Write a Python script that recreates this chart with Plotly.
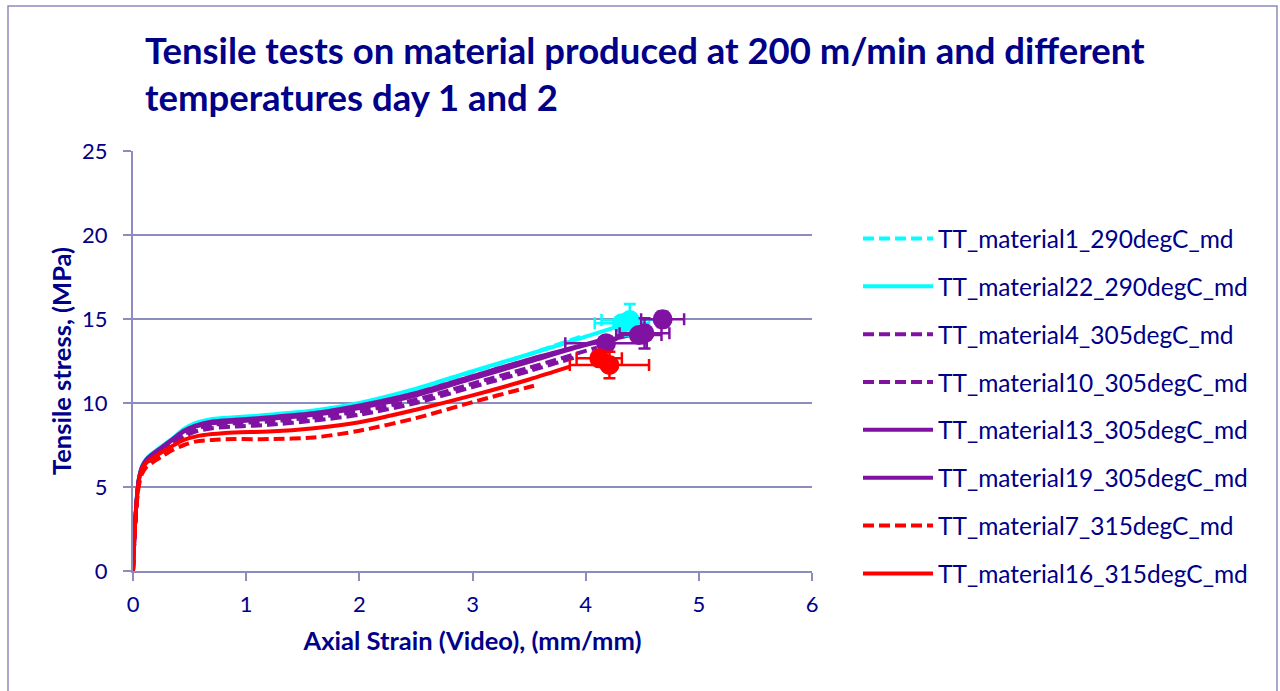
import plotly.graph_objects as go

# ---------------- data ----------------
names = [
    "TT_material1_290degC_md",
    "TT_material22_290degC_md",
    "TT_material4_305degC_md",
    "TT_material10_305degC_md",
    "TT_material13_305degC_md",
    "TT_material19_305degC_md",
    "TT_material7_315degC_md",
    "TT_material16_315degC_md",
]

base_strain = [0, 0.02, 0.05, 0.08, 0.12, 0.18, 0.25, 0.35, 0.45, 0.55, 0.7, 0.9, 1.2, 1.6, 2.0, 2.5, 3.0, 3.5]

strain_m1 = base_strain + [4.0]
stress_m1 = [0, 3.0, 5.4, 6.2, 6.65, 7.0, 7.35, 7.85, 8.4, 8.75, 9.0, 9.1, 9.25, 9.5, 9.95, 10.8, 11.85, 12.9, 14.05]

strain_m22 = base_strain + [4.0, 4.28]
stress_m22 = [0, 3.0, 5.45, 6.25, 6.7, 7.05, 7.4, 7.9, 8.45, 8.8, 9.05, 9.15, 9.3, 9.55, 10.0, 10.85, 11.9, 12.9, 13.95, 14.55]

strain_m4 = base_strain + [3.9]
stress_m4 = [0, 2.9, 5.2, 5.95, 6.4, 6.75, 7.1, 7.55, 8.0, 8.3, 8.5, 8.6, 8.7, 8.95, 9.3, 10.0, 10.95, 11.9, 12.7]

strain_m10 = base_strain + [4.0, 4.1]
stress_m10 = [0, 2.9, 5.3, 6.05, 6.5, 6.85, 7.2, 7.7, 8.15, 8.45, 8.7, 8.8, 8.9, 9.15, 9.5, 10.2, 11.15, 12.1, 13.1, 13.3]

strain_m13 = base_strain + [4.0, 4.24]
stress_m13 = [0, 3.0, 5.4, 6.2, 6.65, 7.0, 7.35, 7.85, 8.35, 8.65, 8.9, 9.0, 9.15, 9.4, 9.85, 10.6, 11.6, 12.6, 13.5, 13.95]

strain_m19 = base_strain + [4.0, 4.45]
stress_m19 = [0, 3.0, 5.4, 6.15, 6.6, 6.95, 7.3, 7.8, 8.3, 8.6, 8.8, 8.9, 9.05, 9.3, 9.7, 10.45, 11.45, 12.45, 13.45, 14.1]

strain_m7 = base_strain + [3.57]
stress_m7 = [0, 2.8, 5.0, 5.8, 6.2, 6.5, 6.8, 7.2, 7.5, 7.7, 7.8, 7.85, 7.85, 7.95, 8.35, 9.1, 10.05, 10.95, 11.07]

strain_m16 = base_strain + [3.86]
stress_m16 = [0, 3.0, 5.3, 6.1, 6.45, 6.75, 7.05, 7.45, 7.8, 8.0, 8.15, 8.25, 8.3, 8.5, 8.85, 9.6, 10.45, 11.4, 12.16]

# break points (mean) with scatter
break_strain = [4.32, 4.39, 4.68, 4.52, 4.47, 4.18, 4.12, 4.21]
break_stress = [14.74, 14.94, 14.98, 14.15, 14.05, 13.55, 12.66, 12.26]
break_strain_err = [0.24, 0.25, 0.19, 0.22, 0.20, 0.36, 0.20, 0.35]
break_stress_err = [0.40, 0.95, 0.45, 0.90, 0.30, 0.30, 0.15, 0.79]
break_group = ["cyan", "cyan", "purple", "purple", "purple", "purple", "red", "red"]

x_ticks = [0, 1, 2, 3, 4, 5, 6]
y_ticks = [0, 5, 10, 15, 20, 25]

# ---------------- style ----------------
CYAN = "#00FFFF"
PURPLE = "#8012A2"
RED = "#FF0000"
NAVY = "#000088"
GRID = "#8C8CBE"
FONT = "Lato"
DASH = "11px,5px"

group_colors = {"cyan": CYAN, "purple": PURPLE, "red": RED}

strains = [strain_m1, strain_m22, strain_m4, strain_m10, strain_m13, strain_m19, strain_m7, strain_m16]
stresses = [stress_m1, stress_m22, stress_m4, stress_m10, stress_m13, stress_m19, stress_m7, stress_m16]
colors = [CYAN, CYAN, PURPLE, PURPLE, PURPLE, PURPLE, RED, RED]
dashes = [DASH, "solid", DASH, DASH, "solid", "solid", DASH, "solid"]

fig = go.Figure()
for i, (nm, xs, ys, c, d) in enumerate(zip(names, strains, stresses, colors, dashes)):
    fig.add_trace(go.Scatter(
        x=xs, y=ys, name=nm, mode="lines", legendgroup=f"g{i}",
        line=dict(color=c, width=4, dash=d, shape="spline", smoothing=0.8),
        hoverinfo="x+y+name",
    ))

for xs, ys, ex, ey, g in zip(break_strain, break_stress, break_strain_err, break_stress_err, break_group):
    c = group_colors[g]
    fig.add_trace(go.Scatter(
        x=[xs], y=[ys], mode="markers", showlegend=False,
        marker=dict(color=c, size=20, line=dict(width=0)),
        error_x=dict(type="data", array=[ex], color=c, thickness=2.5, width=6),
        error_y=dict(type="data", array=[ey], color=c, thickness=2.5, width=6),
    ))

# outer chart border
fig.add_shape(type="rect", xref="paper", yref="paper",
              x0=(8 - 133) / 679, x1=(1277 - 133) / 679,
              y0=(571 - 700) / 420, y1=(571 - 6) / 420,
              line=dict(color=GRID, width=1.5), layer="below")

fig.update_layout(
    width=1280, height=691,
    margin=dict(l=133, r=468, t=151, b=120),
    paper_bgcolor="white", plot_bgcolor="white",
    font=dict(family=FONT, color=NAVY, size=20),
    title=dict(
        text="<b>Tensile tests on material produced at 200 m/min and different<br>temperatures day 1 and 2</b>",
        font=dict(family=FONT, size=36.5, color=NAVY),
        x=145 / 1280, xanchor="left", xref="container",
        y=1 - 64 / 691, yanchor="top", yref="container",
    ),
    legend=dict(
        x=858 / 1280, xref="container", xanchor="left",
        y=1 - 216 / 691, yref="container", yanchor="top",
        font=dict(family=FONT, size=24.5, color=NAVY),
        tracegroupgap=13, itemwidth=70, bgcolor="rgba(0,0,0,0)",
        maxheight=1000,
    ),
    showlegend=True,
)

fig.update_xaxes(
    range=[0, 6], tickvals=x_ticks, ticktext=[str(v) for v in x_ticks],
    showgrid=False, zeroline=False, showline=True, linecolor=GRID, linewidth=2,
    ticks="outside", ticklen=8, tickcolor=GRID, tickwidth=2,
    tickfont=dict(family=FONT, size=22, color=NAVY), ticklabelstandoff=5,
    title=dict(text="<b>Axial Strain (Video), (mm/mm)</b>", font=dict(family=FONT, size=25.5, color=NAVY), standoff=16),
)
fig.update_yaxes(
    range=[0, 25], tickvals=y_ticks, ticktext=[str(v) for v in y_ticks],
    showgrid=True, gridcolor=GRID, gridwidth=2, zeroline=False,
    showline=True, linecolor=GRID, linewidth=2,
    ticks="outside", ticklen=8, tickcolor=GRID, tickwidth=2,
    tickfont=dict(family=FONT, size=22, color=NAVY), ticklabelstandoff=11,
    title=dict(text="<b>Tensile stress, (MPa)</b>", font=dict(family=FONT, size=25.5, color=NAVY), standoff=3),
)

fig.write_html("out.html")
